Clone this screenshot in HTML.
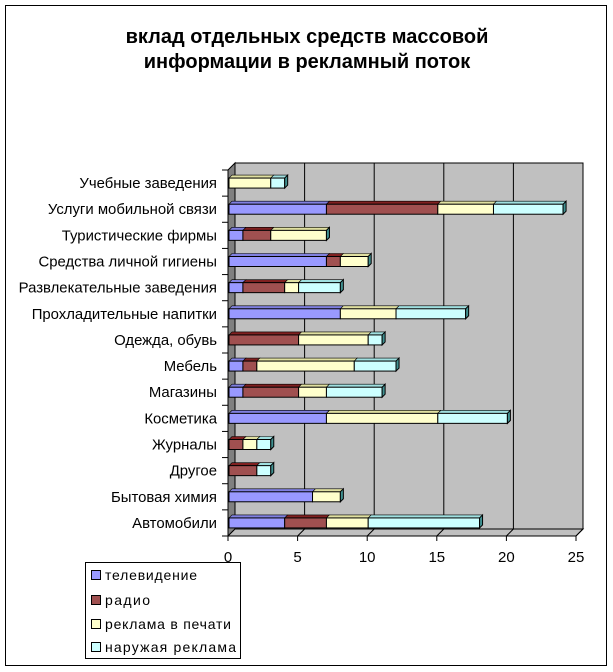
<!DOCTYPE html>
<html><head><meta charset="utf-8">
<style>
html,body{margin:0;padding:0;background:#fff;}
svg{display:block;font-family:"Liberation Sans",sans-serif;}
</style></head>
<body>
<svg id="s" width="613" height="672" xmlns="http://www.w3.org/2000/svg">
<rect x="5.5" y="5.5" width="601" height="660" fill="#fff" stroke="#000"/>
<text x="307" y="43" text-anchor="middle" font-size="20" font-weight="bold">вклад отдельных средств массовой</text>
<text x="307" y="68" text-anchor="middle" font-size="20" font-weight="bold">информации в рекламный поток</text>
<g id="g"></g>
<rect x="85.5" y="562.5" width="155" height="96" fill="#fff" stroke="#000"/>
<rect x="91.5" y="570.5" width="9" height="9" fill="#9999FF" stroke="#000"/>
<text x="105" y="580" font-size="14" textLength="92">телевидение</text>
<rect x="91.5" y="595.5" width="9" height="9" fill="#A05050" stroke="#000"/>
<text x="105" y="605" font-size="14" textLength="45">радио</text>
<rect x="91.5" y="619.5" width="9" height="9" fill="#FFFFCC" stroke="#000"/>
<text x="105" y="629" font-size="14" textLength="126">реклама в печати</text>
<rect x="91.5" y="642.5" width="9" height="9" fill="#CCFFFF" stroke="#000"/>
<text x="105" y="652" font-size="14" textLength="131">наружая реклама</text>
</svg>
<script>
var g=document.getElementById('g');var h='';
var X0=228,S=13.92,D=7,TOP=170,BOT=536,N=14,ST=(BOT-TOP)/N;
h+='<rect x="235" y="163" width="348" height="366" fill="#C0C0C0" stroke="#000"/>';
h+='<polygon points="228,170 235,163 235,529 228,536" fill="#808080" stroke="#000"/>';
h+='<polygon points="228,536 235,529 583,529 576,536" fill="#C0C0C0" stroke="#000"/>';
for(var k=1;k<=5;k++){var x=235+k*5*S;h+='<line x1="'+x+'" y1="163" x2="'+x+'" y2="529" stroke="#000"/>';h+='<line x1="'+(x-D)+'" y1="536" x2="'+x+'" y2="529" stroke="#000"/>';}
h+='<line x1="228" y1="536" x2="576" y2="536" stroke="#000"/>';
h+='<line x1="228" y1="170" x2="228" y2="536" stroke="#000"/>';
for(var k=0;k<=5;k++){var x=X0+k*5*S;h+='<line x1="'+x+'" y1="536" x2="'+x+'" y2="541" stroke="#000"/>';h+='<text x="'+x+'" y="562" text-anchor="middle" font-size="15">'+(k*5)+'</text>';}
for(var i=0;i<=N;i++){var y=BOT-i*ST;h+='<line x1="222" y1="'+y+'" x2="228" y2="'+y+'" stroke="#000"/>';}
var cats=[["Автомобили",[4,3,3,8]],["Бытовая химия",[6,0,2,0]],["Другое",[0,2,0,1]],["Журналы",[0,1,1,1]],["Косметика",[7,0,8,5]],["Магазины",[1,4,2,4]],["Мебель",[1,1,7,3]],["Одежда, обувь",[0,5,5,1]],["Прохладительные напитки",[8,0,4,5]],["Развлекательные заведения",[1,3,1,3]],["Средства личной гигиены",[7,1,2,0]],["Туристические фирмы",[1,2,4,0]],["Услуги мобильной связи",[7,8,4,5]],["Учебные заведения",[0,0,3,1]]];
var cols=["#9999FF","#A05050","#FFFFCC","#CCFFFF"];
var tops=["#8080E0","#802020","#E0E0A0","#A0E0E0"];
for(var i=0;i<N;i++){var c=BOT-ST/2-i*ST;var v=cats[i][1];
h+='<text x="217" y="'+(c+5)+'" text-anchor="end" font-size="14.9">'+cats[i][0]+'</text>';
var x=229,y=c-5,d=3;
for(var j=0;j<4;j++){if(!v[j])continue;var w=v[j]*S;
h+='<polygon points="'+x+','+y+' '+(x+d)+','+(y-d)+' '+(x+w+d)+','+(y-d)+' '+(x+w)+','+y+'" fill="'+tops[j]+'" stroke="#000" stroke-width="0.6"/>';
h+='<rect x="'+x+'" y="'+y+'" width="'+w+'" height="10" fill="'+cols[j]+'" stroke="#000"/>';
x+=w;}
h+='<polygon points="'+x+','+y+' '+(x+d)+','+(y-d)+' '+(x+d)+','+(y+10-d)+' '+x+','+(y+10)+'" fill="#409090" stroke="#000"/>';
}
g.innerHTML=h;
</script>
</body></html>
